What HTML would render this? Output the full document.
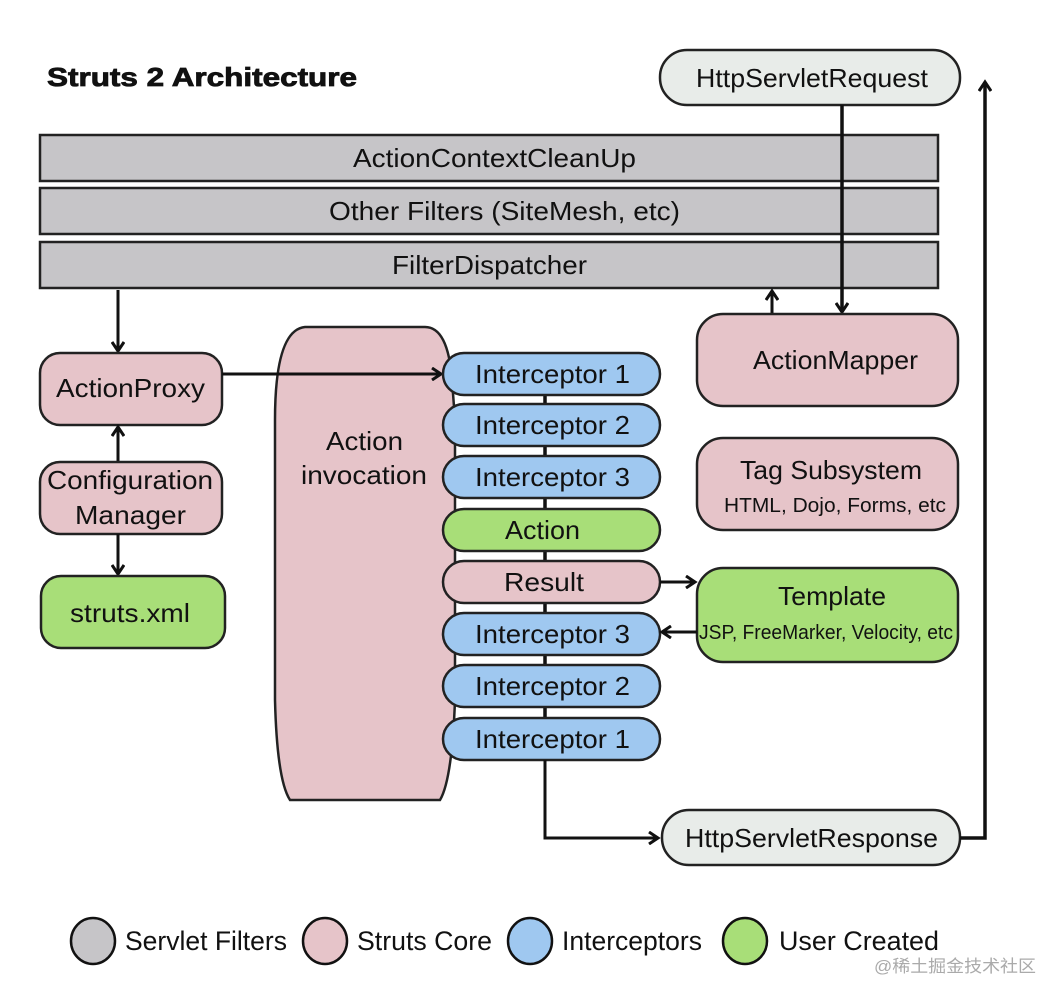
<!DOCTYPE html>
<html><head><meta charset="utf-8"><style>
html,body{margin:0;padding:0;background:#fff;}
svg{display:block;}
text{font-family:"Liberation Sans",Arial,sans-serif;fill:#111;}
</style></head><body>
<svg width="1062" height="1002" viewBox="0 0 1062 1002" xmlns="http://www.w3.org/2000/svg">
<defs>
<marker id="ah" markerWidth="14" markerHeight="14" refX="11" refY="7" orient="auto" markerUnits="userSpaceOnUse">
<path d="M2,1 L11,7 L2,13" fill="none" stroke="#111" stroke-width="3"/>
</marker>
</defs>
<rect width="1062" height="1002" fill="#fff"/>
<text x="47" y="86" font-size="26" font-weight="bold" stroke="#111" stroke-width="0.8" textLength="310" lengthAdjust="spacingAndGlyphs">Struts 2 Architecture</text>

<g stroke="#222" stroke-width="2.5" fill="#c6c5c8">
<rect x="40" y="135" width="898" height="46"/>
<rect x="40" y="188" width="898" height="46"/>
<rect x="40" y="242" width="898" height="46"/>
</g>
<g font-size="26" lengthAdjust="spacingAndGlyphs">
<text x="353" y="167" textLength="283" lengthAdjust="spacingAndGlyphs">ActionContextCleanUp</text>
<text x="329" y="220" textLength="351" lengthAdjust="spacingAndGlyphs">Other Filters (SiteMesh, etc)</text>
<text x="392" y="274" textLength="195" lengthAdjust="spacingAndGlyphs">FilterDispatcher</text>
</g>

<rect x="660" y="50" width="300" height="55" rx="27" fill="#e8ece9" stroke="#222" stroke-width="2.5"/>
<text x="696" y="87" font-size="26" textLength="232" lengthAdjust="spacingAndGlyphs">HttpServletRequest</text>
<line x1="842" y1="105" x2="842" y2="312" stroke="#111" stroke-width="3.5" marker-end="url(#ah)"/>
<line x1="772" y1="314" x2="772" y2="291" stroke="#111" stroke-width="3" marker-end="url(#ah)"/>

<rect x="697" y="314" width="261" height="92" rx="26" fill="#e6c4c9" stroke="#222" stroke-width="2.5"/>
<text x="753" y="369" font-size="26" textLength="165" lengthAdjust="spacingAndGlyphs">ActionMapper</text>
<rect x="697" y="438" width="261" height="92" rx="26" fill="#e6c4c9" stroke="#222" stroke-width="2.5"/>
<text x="740" y="479" font-size="26" textLength="182" lengthAdjust="spacingAndGlyphs">Tag Subsystem</text>
<text x="724" y="512" font-size="20" textLength="222" lengthAdjust="spacingAndGlyphs">HTML, Dojo, Forms, etc</text>
<rect x="697" y="568" width="261" height="94" rx="26" fill="#a8de78" stroke="#222" stroke-width="2.5"/>
<text x="778" y="605" font-size="26" textLength="108" lengthAdjust="spacingAndGlyphs">Template</text>
<text x="699" y="639" font-size="20" textLength="254" lengthAdjust="spacingAndGlyphs">JSP, FreeMarker, Velocity, etc</text>

<line x1="118" y1="290" x2="118" y2="351" stroke="#111" stroke-width="3" marker-end="url(#ah)"/>
<rect x="40" y="353" width="182" height="72" rx="20" fill="#e6c4c9" stroke="#222" stroke-width="2.5"/>
<text x="56" y="397" font-size="26" textLength="149" lengthAdjust="spacingAndGlyphs">ActionProxy</text>
<line x1="118" y1="462" x2="118" y2="427" stroke="#111" stroke-width="3" marker-end="url(#ah)"/>
<rect x="40" y="462" width="182" height="72" rx="20" fill="#e6c4c9" stroke="#222" stroke-width="2.5"/>
<text x="47" y="489" font-size="26" textLength="166" lengthAdjust="spacingAndGlyphs">Configuration</text>
<text x="75" y="524" font-size="26" textLength="111" lengthAdjust="spacingAndGlyphs">Manager</text>
<line x1="118" y1="534" x2="118" y2="574" stroke="#111" stroke-width="3" marker-end="url(#ah)"/>
<rect x="41" y="576" width="184" height="72" rx="20" fill="#a8de78" stroke="#222" stroke-width="2.5"/>
<text x="70" y="622" font-size="26" textLength="120" lengthAdjust="spacingAndGlyphs">struts.xml</text>

<path d="M305,327 L425,327 Q448,327 452,380 L455,420 L455,700 Q452,780 440,800 L290,800 Q277,780 275,700 L275,420 Q275,330 305,327 Z" fill="#e6c4c9" stroke="#222" stroke-width="2.5"/>
<text x="326" y="450" font-size="26" textLength="77" lengthAdjust="spacingAndGlyphs">Action</text>
<text x="301" y="484" font-size="26" textLength="126" lengthAdjust="spacingAndGlyphs">invocation</text>

<line x1="222" y1="374" x2="441" y2="374" stroke="#111" stroke-width="3" marker-end="url(#ah)"/>

<line x1="545" y1="395" x2="545" y2="718" stroke="#111" stroke-width="3.5"/>
<g stroke="#222" stroke-width="2.5">
<rect x="443" y="353" width="217" height="42" rx="21" fill="#9fc8f0"/>
<rect x="443" y="404" width="217" height="42" rx="21" fill="#9fc8f0"/>
<rect x="443" y="456" width="217" height="42" rx="21" fill="#9fc8f0"/>
<rect x="443" y="509" width="217" height="42" rx="21" fill="#a8de78"/>
<rect x="443" y="561" width="217" height="42" rx="21" fill="#e6c4c9"/>
<rect x="443" y="613" width="217" height="42" rx="21" fill="#9fc8f0"/>
<rect x="443" y="665" width="217" height="42" rx="21" fill="#9fc8f0"/>
<rect x="443" y="718" width="217" height="42" rx="21" fill="#9fc8f0"/>
</g>
<g font-size="26">
<text x="475" y="383" textLength="155" lengthAdjust="spacingAndGlyphs">Interceptor 1</text>
<text x="475" y="434" textLength="155" lengthAdjust="spacingAndGlyphs">Interceptor 2</text>
<text x="475" y="486" textLength="155" lengthAdjust="spacingAndGlyphs">Interceptor 3</text>
<text x="505" y="539" textLength="75" lengthAdjust="spacingAndGlyphs">Action</text>
<text x="504" y="591" textLength="80" lengthAdjust="spacingAndGlyphs">Result</text>
<text x="475" y="643" textLength="155" lengthAdjust="spacingAndGlyphs">Interceptor 3</text>
<text x="475" y="695" textLength="155" lengthAdjust="spacingAndGlyphs">Interceptor 2</text>
<text x="475" y="748" textLength="155" lengthAdjust="spacingAndGlyphs">Interceptor 1</text>
</g>

<line x1="660" y1="582" x2="695" y2="582" stroke="#111" stroke-width="3" marker-end="url(#ah)"/>
<line x1="697" y1="632" x2="662" y2="632" stroke="#111" stroke-width="3" marker-end="url(#ah)"/>

<polyline points="545,760 545,838 658,838" fill="none" stroke="#111" stroke-width="3" marker-end="url(#ah)"/>
<rect x="662" y="810" width="298" height="55" rx="27" fill="#e8ece9" stroke="#222" stroke-width="2.5"/>
<text x="685" y="847" font-size="26" textLength="253" lengthAdjust="spacingAndGlyphs">HttpServletResponse</text>
<polyline points="960,838 985,838 985,82" fill="none" stroke="#111" stroke-width="3.5" marker-end="url(#ah)"/>

<g stroke="#111" stroke-width="2.5">
<ellipse cx="93" cy="941" rx="22" ry="23" fill="#c6c5c8"/>
<ellipse cx="325" cy="941" rx="22" ry="23" fill="#e6c4c9"/>
<ellipse cx="530" cy="941" rx="22" ry="23" fill="#9fc8f0"/>
<ellipse cx="745" cy="941" rx="22" ry="23" fill="#a8de78"/>
</g>
<g font-size="27">
<text x="125" y="950" textLength="162" lengthAdjust="spacingAndGlyphs">Servlet Filters</text>
<text x="357" y="950" textLength="135" lengthAdjust="spacingAndGlyphs">Struts Core</text>
<text x="562" y="950" textLength="140" lengthAdjust="spacingAndGlyphs">Interceptors</text>
<text x="779" y="950" textLength="160" lengthAdjust="spacingAndGlyphs">User Created</text>
</g>
<text x="874" y="972" font-size="17" style="fill:#aaa" font-family="'Liberation Sans','Noto Sans CJK SC',sans-serif" textLength="162" lengthAdjust="spacingAndGlyphs">@稀土掘金技术社区</text>
</svg>
</body></html>
